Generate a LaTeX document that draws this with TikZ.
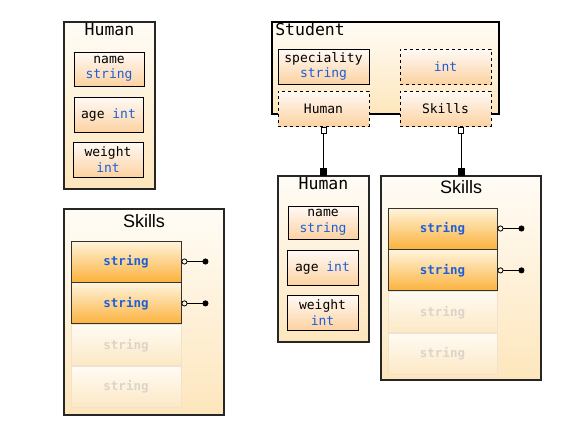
\documentclass[tikz,border=0pt]{standalone}
\usepackage{fontspec}
\setmainfont{Liberation Sans}
\setmonofont{DejaVu Sans Mono}
\usetikzlibrary{positioning,arrows.meta}
\definecolor{tblue}{HTML}{1E5FD8}
\definecolor{contTop}{HTML}{FFFCF6}
\definecolor{contBot}{HTML}{FDE6BC}
\definecolor{fieldTop}{HTML}{FFFAF6}
\definecolor{fieldBot}{HTML}{FCD2A2}
\definecolor{skTop}{HTML}{FFF4DC}
\definecolor{skBot}{HTML}{FBB23C}
\definecolor{fadeTop}{HTML}{FFFBF3}
\definecolor{fadeBot}{HTML}{FCE8C4}
\definecolor{fadeLine}{HTML}{F0E2CE}
\definecolor{fadeText}{HTML}{DCD4C8}
\tikzset{cont/.style={draw=black!85,line width=1.4pt,top color=contTop,bottom color=contBot,inner sep=0pt},
	 field/.style={draw,line width=0.9pt,top color=fieldTop,bottom color=fieldBot,align=center,inner sep=0pt,
	   font=\ttfamily\fontsize{13}{15.5}\selectfont},
	 dfield/.style={field,dashed},
	 sbox/.style={draw=black!80,line width=0.9pt,top color=skTop,bottom color=skBot,inner sep=0pt,
	   minimum width=110pt,minimum height=41pt,text=tblue,font=\ttfamily\bfseries\fontsize{12.5}{14}\selectfont},
	 fsbox/.style={sbox,draw=fadeLine,top color=fadeTop,bottom color=fadeBot,text=fadeText},
	 ctitle/.style={font=\ttfamily\fontsize{16.5}{18}\selectfont,inner sep=1pt},
	 stitle/.style={font=\fontsize{18}{20}\selectfont,inner sep=1pt},
	 link/.style={line width=0.8pt},
	 node distance = 0pt
	 }
\newcommand{\ty}[1]{\textcolor{tblue}{#1}}

\begin{document}
\begin{tikzpicture}[x=1pt,y=-1pt]
	\useasboundingbox (0,0) rectangle (580,434);
	% Human
	\node[cont,minimum width=91pt,minimum height=167pt] (hum) at (109.5,105.5) {};
	\node[ctitle,anchor=north] (humT) at ([yshift=-1pt]hum.north) {Human};
	\node[field,minimum width=70pt,minimum height=34pt] (hname) at (109,69) {name\\\ty{string}};
	\node[field,minimum width=69pt,minimum height=35pt] (hage) at (108.5,114.5) {age \ty{int}};
	\node[field,minimum width=70pt,minimum height=35pt] (hweight) at (108,159.5) {weight\\\ty{int}};
	% Skills
	\node[cont,minimum width=160pt,minimum height=206pt] (skl) at (144,312) {};
	\node[stitle,anchor=north] (sklT) at ([yshift=-5pt]skl.north) {Skills};
	\node[sbox] (sk1) at (126,261.5) {string};
	\node[sbox,below=of sk1] (sk2) {string};
	\node[fsbox,below=of sk2] (sk3) {string};
	\node[fsbox,below=of sk3] (sk4) {string};
	\coordinate (sk1e) at ([xshift=27pt]sk1.east);
	\coordinate (sk2e) at ([xshift=27pt]sk2.east);
	\draw[link,{Circle[open,length=6pt]}-{Circle[length=6pt]}] (sk1.east) -- (sk1e);
	\draw[link,{Circle[open,length=6pt]}-{Circle[length=6pt]}] (sk2.east) -- (sk2e);
	% Student
	\node[cont,line width=1.8pt,draw=black,minimum width=227pt,minimum height=92pt] (stu) at (385.5,68) {};
	\node[ctitle,anchor=north west] (stuT) at ([xshift=3pt,yshift=-1pt]stu.north west) {Student};
	\node[field,minimum width=91pt,minimum height=35pt] (sspec) at (323.5,66.5) {speciality\\\ty{string}};
	\node[dfield,minimum width=91pt,minimum height=35pt] (sint) at (445.5,66.5) {\ty{int}};
	\node[dfield,minimum width=91pt,minimum height=35pt] (shum) at (323.5,108.5) {Human};
	\node[dfield,minimum width=91pt,minimum height=35pt] (sskl) at (445.5,108.5) {Skills};
	% Human (linked)
	\node[cont,minimum width=91pt,minimum height=166pt] (hum2) at (323.5,259) {};
	\node[ctitle,anchor=north] (hum2T) at ([yshift=-1pt]hum2.north) {Human};
	\node[field,minimum width=70pt,minimum height=33pt] (h2name) at (323,222.5) {name\\\ty{string}};
	\node[field,minimum width=71pt,minimum height=35pt] (h2age) at (322.5,267.5) {age \ty{int}};
	\node[field,minimum width=71pt,minimum height=35pt] (h2weight) at (322.5,312.5) {weight\\\ty{int}};
	% Skills (linked)
	\node[cont,minimum width=160pt,minimum height=204pt] (skl2) at (461,278) {};
	\node[stitle,anchor=north] (skl2T) at ([yshift=-4pt]skl2.north) {Skills};
	\node[sbox,minimum width=109pt] (s2k1) at (442.5,228.5) {string};
	\node[sbox,minimum width=109pt,below=of s2k1] (s2k2) {string};
	\node[fsbox,minimum width=109pt,below=of s2k2] (s2k3) {string};
	\node[fsbox,minimum width=109pt,below=of s2k3] (s2k4) {string};
	\coordinate (s2k1e) at ([xshift=27pt]s2k1.east);
	\coordinate (s2k2e) at ([xshift=27pt]s2k2.east);
	\draw[link,{Circle[open,length=6pt]}-{Circle[length=6pt]}] (s2k1.east) -- (s2k1e);
	\draw[link,{Circle[open,length=6pt]}-{Circle[length=6pt]}] (s2k2.east) -- (s2k2e);
	% links
	\draw[link,{Square[open,length=6pt,width=6pt]}-{Square[length=7pt,width=7pt]}] ([yshift=-1pt]shum.south) -- (hum2.north);
	\draw[link,{Square[open,length=6pt,width=6pt]}-{Square[length=7pt,width=7pt]}] ([yshift=-1pt]sskl.south -| skl2.north) -- (skl2.north);
\end{tikzpicture}
\end{document}
